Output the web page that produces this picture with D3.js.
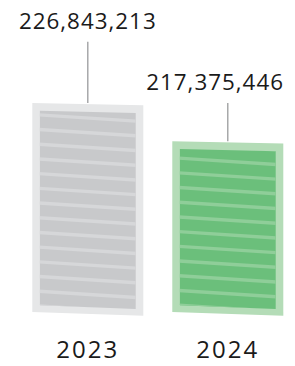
<!DOCTYPE html>
<html>
<head>
<meta charset="utf-8">
<script src="https://cdn.jsdelivr.net/npm/d3@7"></script>
<style>
  body { margin: 0; background: #fff; }
  svg { display: block; }
</style>
</head>
<body>
<div id="chart"></div>
<script>
(function () {

	var years = ['2023', '2024'];
	var values = [226843213, 217375446];

	var width = 295, height = 366;

	var fills = [
		{ outer: '#e6e7e8', inner: '#c8c9cb', stripe: '#d6d7d9' },
		{ outer: '#b4dcb7', inner: '#6bbf7b', stripe: '#8fce99' }
	];
	// how far above the bar top each value label sits
	var labelGap = [74, 51];

	var svg = d3.select('#chart').append('svg')
		.attr('width', width)
		.attr('height', height);

	var x = d3.scaleBand()
		.domain(years)
		.range([32.3, 283.3])
		.paddingInner(0.207);

	var y = d3.scaleLinear()
		.domain([175e6, 230e6])
		.range([312, 90.3]);

	var bw = x.bandwidth();
	var inset = 7.6;
	var topSkew = 2.3, botSkew = 3.8;

	var quad = function (x0, x1, yt, yb) {
		return 'M' + x0 + ',' + yt +
			'L' + x1 + ',' + (yt + topSkew) +
			'L' + x1 + ',' + (yb + botSkew) +
			'L' + x0 + ',' + yb + 'Z';
	};

	var defs = svg.append('defs');

	years.forEach(function (yr, i) {
		var x0 = x(yr), x1 = x0 + bw;
		var yt = y(values[i]), yb = y(175e6);
		var g = svg.append('g');

		g.append('path')
			.attr('d', quad(x0, x1, yt, yb))
			.attr('fill', fills[i].outer);

		var innerD = quad(x0 + inset, x1 - inset, yt + inset + 0.2, yb - inset + 0.8);

		defs.append('clipPath').attr('id', 'clip' + i)
			.append('path').attr('d', innerD);

		g.append('path')
			.attr('d', innerD)
			.attr('fill', fills[i].inner);

		var stripes = g.append('g').attr('clip-path', 'url(#clip' + i + ')');
		var spacing = 14.7;
		var start = (i === 0 ? 115 : 158.3) - spacing * 2;
		for (var s = start; s < yb + 10; s += spacing) {
			stripes.append('line')
				.attr('x1', x0).attr('y1', s - 0.6)
				.attr('x2', x1).attr('y2', s + 6.6)
				.attr('stroke', fills[i].stripe)
				.attr('stroke-width', 3.4);
		}

		var cx = x0 + bw / 2;

		g.append('line')
			.attr('x1', cx).attr('x2', cx)
			.attr('y1', yt - labelGap[i] + 12.7)
			.attr('y2', yt)
			.attr('stroke', '#9a9b9d')
			.attr('stroke-width', 1.3);

		var label = g.append('text')
			.attr('x', cx)
			.attr('y', yt - labelGap[i])
			.attr('text-anchor', 'middle')
			.attr('font-family', 'Open Sans')
			.attr('font-size', 22.4)
			.attr('letter-spacing', 1)
			.attr('fill', '#1a1a1a')
			.text(d3.format(',')(values[i]));

		// keep the label inside the right edge
		var box = label.node().getBBox();
		if (box.x + box.width > 284) {
			label.attr('x', cx - (box.x + box.width - 284));
		}

		g.append('text')
			.attr('x', cx)
			.attr('y', 358)
			.attr('text-anchor', 'middle')
			.attr('font-family', 'Open Sans')
			.attr('font-size', 24)
			.attr('letter-spacing', 2)
			.attr('fill', '#1a1a1a')
			.text(yr);
	});

})();
</script>
</body>
</html>
